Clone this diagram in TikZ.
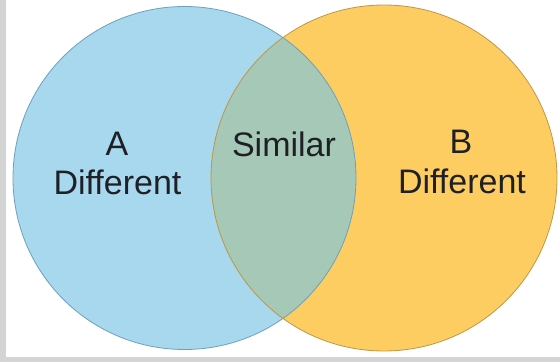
\documentclass[tikz,border=0pt]{standalone}
\usepackage{fontspec}
\setmainfont{Liberation Sans}
\definecolor{blueA}{RGB}{168,216,238}
\definecolor{yellowB}{RGB}{254,205,98}
\definecolor{overlapC}{RGB}{166,200,182}
\definecolor{edgeA}{RGB}{110,160,188}
\definecolor{edgeB}{RGB}{190,150,70}
\definecolor{frameG}{RGB}{212,212,212}
\definecolor{txt}{RGB}{30,32,38}
\tikzset{
  vennA/.style={circle, inner sep=0pt, outer sep=0pt, minimum size=343pt, fill=blueA},
  vennB/.style={circle, inner sep=0pt, outer sep=0pt, minimum size=346pt, fill=yellowB},
  lbl/.style={anchor=base, text=txt, font=\fontsize{34}{40}\selectfont, inner sep=0pt},
}
\begin{document}
\begin{tikzpicture}[x=1pt,y=-1pt]
\useasboundingbox (0,0) rectangle (560,362);
\fill[white] (0,0) rectangle (560,362);
\fill[frameG] (0,0) rectangle (6,362);
\fill[frameG] (0,357) rectangle (560,362);
\node[vennA] (cA) at (184.5,178) {};
\node[vennB] (cB) at (384,178) {};
\begin{scope}
  \clip (184.5,178) circle (171.5);
  \fill[overlapC] (384,178) circle (173);
\end{scope}
\draw[edgeA, line width=0.8pt] (184.5,178) circle (171.5);
\draw[edgeB, line width=0.8pt] (384,178) circle (173);
\node[lbl] (tA) at (117,155) {A};
\node[lbl] (tAd) at (117.5,194) {Different};
\node[lbl] (tS) at (284,156) {Similar};
\node[lbl] (tB) at (461,153) {B};
\node[lbl] (tBd) at (462,193) {Different};
\end{tikzpicture}
\end{document}
